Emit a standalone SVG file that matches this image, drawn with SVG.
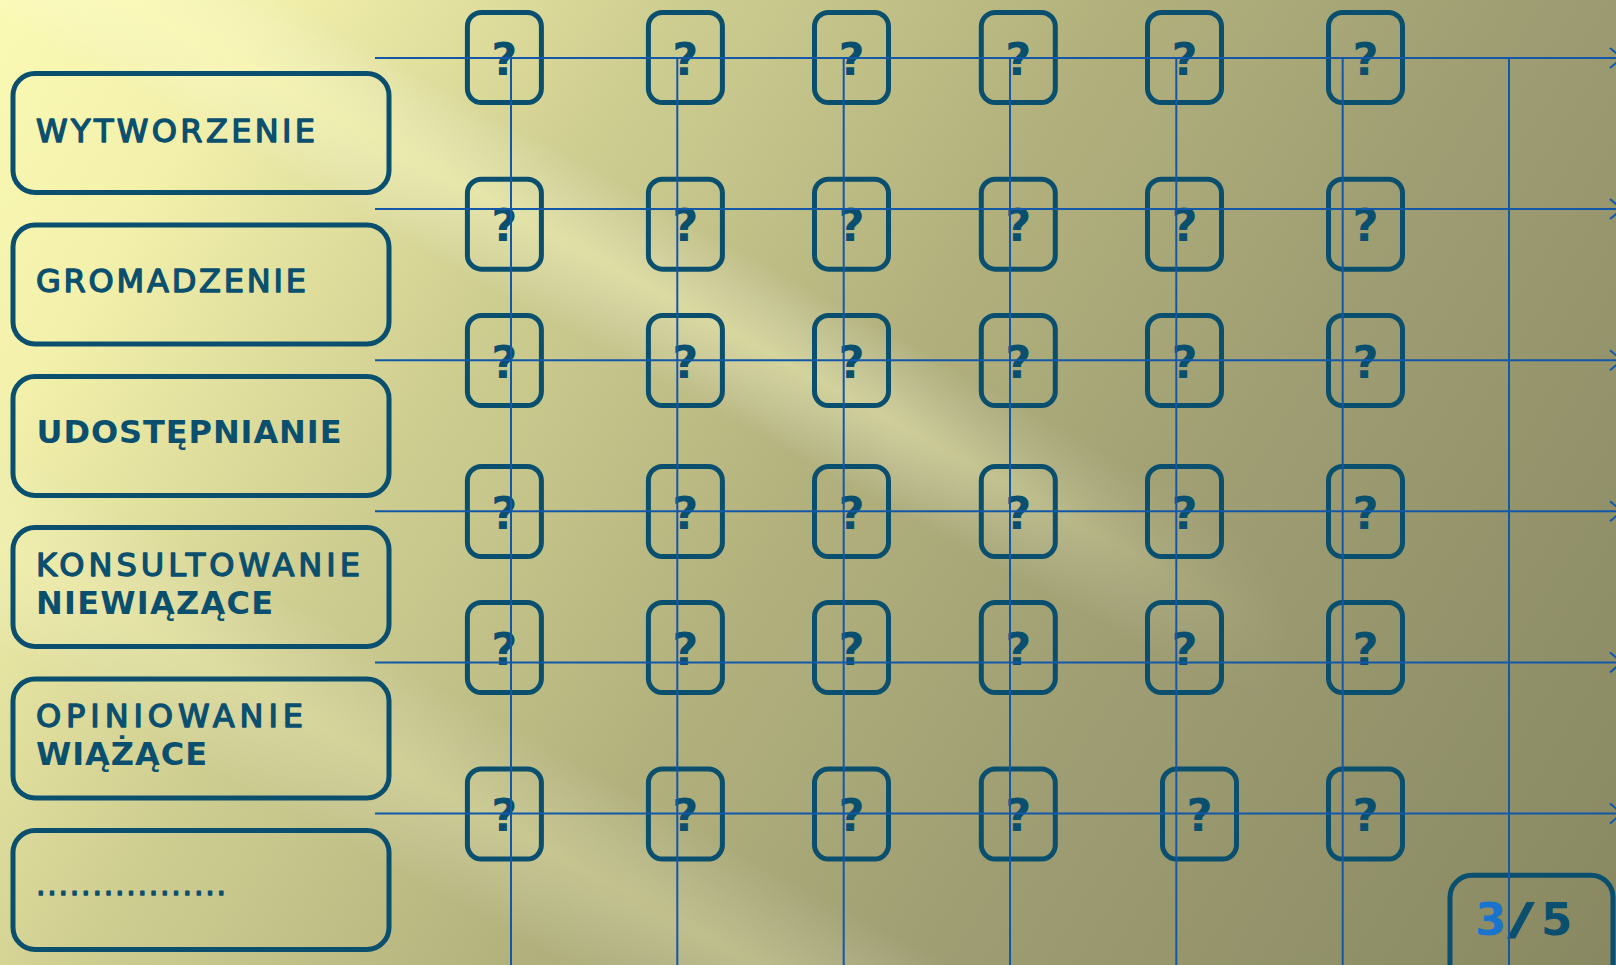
<svg xmlns="http://www.w3.org/2000/svg" width="1616" height="965" viewBox="0 0 1616 965">
<defs>
<linearGradient id="bg" gradientUnits="userSpaceOnUse" x1="0" y1="0" x2="1616" y2="1000">
<stop offset="0" stop-color="#fbfab4"/>
<stop offset="0.12" stop-color="#f2f0aa"/>
<stop offset="0.3" stop-color="#cfce91"/>
<stop offset="0.5" stop-color="#b2b17d"/>
<stop offset="0.7" stop-color="#9d9c72"/>
<stop offset="1" stop-color="#878761"/>
</linearGradient>
<linearGradient id="sheen" gradientUnits="userSpaceOnUse" x1="169" y1="-307" x2="-338" y2="614">
<stop offset="0" stop-color="#ffffff" stop-opacity="0"/>
<stop offset="0.2" stop-color="#ffffff" stop-opacity="0"/>
<stop offset="0.275" stop-color="#ffffc8" stop-opacity="0.4"/>
<stop offset="0.35" stop-color="#ffffff" stop-opacity="0"/>
<stop offset="0.7" stop-color="#ffffff" stop-opacity="0"/>
<stop offset="0.79" stop-color="#ffffc8" stop-opacity="0.25"/>
<stop offset="0.88" stop-color="#ffffff" stop-opacity="0"/>
</linearGradient>
<linearGradient id="fade" gradientUnits="userSpaceOnUse" x1="0" y1="0" x2="1616" y2="0">
<stop offset="0" stop-color="#fff"/>
<stop offset="0.55" stop-color="#fff"/>
<stop offset="0.8" stop-color="#000"/>
</linearGradient>
<mask id="mk"><rect x="0" y="0" width="1616" height="965" fill="url(#fade)"/></mask>
<marker id="arr" markerUnits="userSpaceOnUse" markerWidth="30" markerHeight="30" viewBox="-15 -15 30 30" refX="0" refY="0" orient="auto" overflow="visible">
<path d="M-12,-10 L0,0 L-12,10" fill="none" stroke="#1358a8" stroke-width="2"/>
</marker>
<style>
.box{fill:none;stroke:#0b4f6e;stroke-width:5}
.t{font-family:"DejaVu Sans","Liberation Sans",sans-serif;font-size:32px;fill:#0b4f6e}
.b{font-weight:bold}
.m{stroke:#0b4f6e;stroke-width:1.4px;stroke-linejoin:round}
.qt{font-family:"DejaVu Sans","Liberation Sans",sans-serif;font-weight:bold;font-size:45px;fill:#0b4f6e;text-anchor:middle}
.st{text-anchor:start}
.blue{fill:#1a73cc}
.ln{stroke:#1358a8;stroke-width:2;fill:none}
.h{marker-end:url(#arr)}
</style>
</defs>
<rect x="0" y="0" width="1616" height="965" fill="url(#bg)"/>
<rect x="0" y="0" width="1616" height="965" fill="url(#sheen)" mask="url(#mk)"/>

<g id="label-1"><rect class="box" x="13" y="73.5" width="376" height="119" rx="22"/><text class="t m" x="36" y="141.7" textLength="279">WYTWORZENIE</text></g>
<g id="label-2"><rect class="box" x="13" y="225" width="376" height="119" rx="22"/><text class="t m" x="36" y="291.7" textLength="270">GROMADZENIE</text></g>
<g id="label-3"><rect class="box" x="13" y="376.5" width="376" height="119" rx="22"/><text class="t b" x="36.5" y="442.7" textLength="305">UDOSTĘPNIANIE</text></g>
<g id="label-4"><rect class="box" x="13" y="527.5" width="376" height="119" rx="22"/><text class="t m" x="36" y="576" textLength="324">KONSULTOWANIE</text><text class="t b" x="36" y="614" textLength="237">NIEWIĄZĄCE</text></g>
<g id="label-5"><rect class="box" x="13" y="679" width="376" height="119" rx="22"/><text class="t m" x="36" y="727.3" textLength="267">OPINIOWANIE</text><text class="t b" x="36" y="765" textLength="171">WIĄŻĄCE</text></g>
<g id="label-6"><rect class="box" x="13" y="830.5" width="376" height="119" rx="22"/><text class="t m" style="font-size:30px" x="36" y="895" textLength="190">.................</text></g>

<g id="q-r1-c1"><rect class="box" x="467.4" y="12.5" width="74" height="90" rx="14"/><text class="qt" x="504.4" y="74.5">?</text></g>
<g id="q-r1-c2"><rect class="box" x="648.4" y="12.5" width="74" height="90" rx="14"/><text class="qt" x="685.4" y="74.5">?</text></g>
<g id="q-r1-c3"><rect class="box" x="814.5" y="12.5" width="74" height="90" rx="14"/><text class="qt" x="851.5" y="74.5">?</text></g>
<g id="q-r1-c4"><rect class="box" x="981.3" y="12.5" width="74" height="90" rx="14"/><text class="qt" x="1018.3" y="74.5">?</text></g>
<g id="q-r1-c5"><rect class="box" x="1147.5" y="12.5" width="74" height="90" rx="14"/><text class="qt" x="1184.5" y="74.5">?</text></g>
<g id="q-r1-c6"><rect class="box" x="1328.5" y="12.5" width="74" height="90" rx="14"/><text class="qt" x="1365.5" y="74.5">?</text></g>

<g id="q-r2-c1"><rect class="box" x="467.4" y="179.2" width="74" height="90" rx="14"/><text class="qt" x="504.4" y="241.2">?</text></g>
<g id="q-r2-c2"><rect class="box" x="648.4" y="179.2" width="74" height="90" rx="14"/><text class="qt" x="685.4" y="241.2">?</text></g>
<g id="q-r2-c3"><rect class="box" x="814.5" y="179.2" width="74" height="90" rx="14"/><text class="qt" x="851.5" y="241.2">?</text></g>
<g id="q-r2-c4"><rect class="box" x="981.3" y="179.2" width="74" height="90" rx="14"/><text class="qt" x="1018.3" y="241.2">?</text></g>
<g id="q-r2-c5"><rect class="box" x="1147.5" y="179.2" width="74" height="90" rx="14"/><text class="qt" x="1184.5" y="241.2">?</text></g>
<g id="q-r2-c6"><rect class="box" x="1328.5" y="179.2" width="74" height="90" rx="14"/><text class="qt" x="1365.5" y="241.2">?</text></g>

<g id="q-r3-c1"><rect class="box" x="467.4" y="315.5" width="74" height="90" rx="14"/><text class="qt" x="504.4" y="377.5">?</text></g>
<g id="q-r3-c2"><rect class="box" x="648.4" y="315.5" width="74" height="90" rx="14"/><text class="qt" x="685.4" y="377.5">?</text></g>
<g id="q-r3-c3"><rect class="box" x="814.5" y="315.5" width="74" height="90" rx="14"/><text class="qt" x="851.5" y="377.5">?</text></g>
<g id="q-r3-c4"><rect class="box" x="981.3" y="315.5" width="74" height="90" rx="14"/><text class="qt" x="1018.3" y="377.5">?</text></g>
<g id="q-r3-c5"><rect class="box" x="1147.5" y="315.5" width="74" height="90" rx="14"/><text class="qt" x="1184.5" y="377.5">?</text></g>
<g id="q-r3-c6"><rect class="box" x="1328.5" y="315.5" width="74" height="90" rx="14"/><text class="qt" x="1365.5" y="377.5">?</text></g>

<g id="q-r4-c1"><rect class="box" x="467.4" y="466.5" width="74" height="90" rx="14"/><text class="qt" x="504.4" y="528.5">?</text></g>
<g id="q-r4-c2"><rect class="box" x="648.4" y="466.5" width="74" height="90" rx="14"/><text class="qt" x="685.4" y="528.5">?</text></g>
<g id="q-r4-c3"><rect class="box" x="814.5" y="466.5" width="74" height="90" rx="14"/><text class="qt" x="851.5" y="528.5">?</text></g>
<g id="q-r4-c4"><rect class="box" x="981.3" y="466.5" width="74" height="90" rx="14"/><text class="qt" x="1018.3" y="528.5">?</text></g>
<g id="q-r4-c5"><rect class="box" x="1147.5" y="466.5" width="74" height="90" rx="14"/><text class="qt" x="1184.5" y="528.5">?</text></g>
<g id="q-r4-c6"><rect class="box" x="1328.5" y="466.5" width="74" height="90" rx="14"/><text class="qt" x="1365.5" y="528.5">?</text></g>

<g id="q-r5-c1"><rect class="box" x="467.4" y="602.5" width="74" height="90" rx="14"/><text class="qt" x="504.4" y="664.5">?</text></g>
<g id="q-r5-c2"><rect class="box" x="648.4" y="602.5" width="74" height="90" rx="14"/><text class="qt" x="685.4" y="664.5">?</text></g>
<g id="q-r5-c3"><rect class="box" x="814.5" y="602.5" width="74" height="90" rx="14"/><text class="qt" x="851.5" y="664.5">?</text></g>
<g id="q-r5-c4"><rect class="box" x="981.3" y="602.5" width="74" height="90" rx="14"/><text class="qt" x="1018.3" y="664.5">?</text></g>
<g id="q-r5-c5"><rect class="box" x="1147.5" y="602.5" width="74" height="90" rx="14"/><text class="qt" x="1184.5" y="664.5">?</text></g>
<g id="q-r5-c6"><rect class="box" x="1328.5" y="602.5" width="74" height="90" rx="14"/><text class="qt" x="1365.5" y="664.5">?</text></g>

<g id="q-r6-c1"><rect class="box" x="467.4" y="769" width="74" height="90" rx="14"/><text class="qt" x="504.4" y="831">?</text></g>
<g id="q-r6-c2"><rect class="box" x="648.4" y="769" width="74" height="90" rx="14"/><text class="qt" x="685.4" y="831">?</text></g>
<g id="q-r6-c3"><rect class="box" x="814.5" y="769" width="74" height="90" rx="14"/><text class="qt" x="851.5" y="831">?</text></g>
<g id="q-r6-c4"><rect class="box" x="981.3" y="769" width="74" height="90" rx="14"/><text class="qt" x="1018.3" y="831">?</text></g>
<g id="q-r6-c5"><rect class="box" x="1162.5" y="769" width="74" height="90" rx="14"/><text class="qt" x="1199.5" y="831">?</text></g>
<g id="q-r6-c6"><rect class="box" x="1328.5" y="769" width="74" height="90" rx="14"/><text class="qt" x="1365.5" y="831">?</text></g>

<g id="page"><rect class="box" x="1450" y="875.2" width="163" height="130" rx="22"/><text class="qt st blue" x="1475" y="935">3</text><text class="qt st" transform="translate(1507,935) scale(1.7,1)" x="0" y="0">/</text><text class="qt st" x="1541" y="935">5</text></g>

<g id="connectors">
<line class="ln h" x1="375" y1="58" x2="1622" y2="58"/>
<line class="ln h" x1="375" y1="209.1" x2="1622" y2="209.1"/>
<line class="ln h" x1="375" y1="360.2" x2="1622" y2="360.2"/>
<line class="ln h" x1="375" y1="511.3" x2="1622" y2="511.3"/>
<line class="ln h" x1="375" y1="662.4" x2="1622" y2="662.4"/>
<line class="ln h" x1="375" y1="813.5" x2="1622" y2="813.5"/>
<line class="ln" x1="511" y1="58" x2="511" y2="970"/>
<line class="ln" x1="677.3" y1="58" x2="677.3" y2="970"/>
<line class="ln" x1="843.7" y1="58" x2="843.7" y2="970"/>
<line class="ln" x1="1010" y1="58" x2="1010" y2="970"/>
<line class="ln" x1="1176.3" y1="58" x2="1176.3" y2="970"/>
<line class="ln" x1="1342.7" y1="58" x2="1342.7" y2="970"/>
<line class="ln" x1="1509" y1="58" x2="1509" y2="970"/>
</g>
</svg>
